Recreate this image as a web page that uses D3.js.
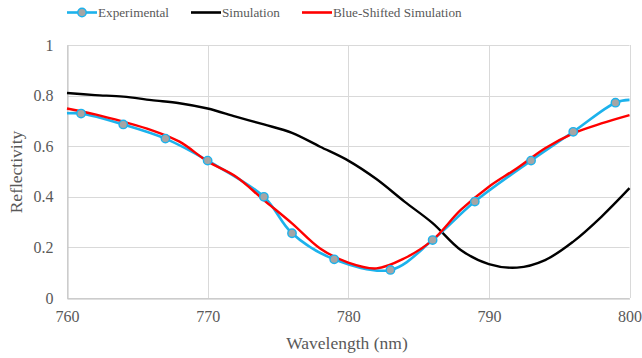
<!DOCTYPE html>
<html>
<head>
<meta charset="utf-8">
<script src="https://cdn.jsdelivr.net/npm/d3@7"></script>
<style>
  html, body { margin: 0; padding: 0; background: #fff; }
  svg { display: block; }
</style>
</head>
<body>
<svg id="chart" width="642" height="358" font-family="Liberation Serif"></svg>
<script>
// Measured reflectivity (line points; markers drawn at expMarkerNm)
const expNm    = [760, 761, 764, 767, 770, 774, 776, 779, 783, 786, 789, 793, 796, 799, 800];
const expValue = [0.730, 0.729, 0.686, 0.630, 0.543, 0.400, 0.256, 0.153, 0.111, 0.229, 0.381, 0.543, 0.657, 0.772, 0.783];
const expMarkerNm = [761, 764, 767, 770, 774, 776, 779, 783, 786, 789, 793, 796, 799];

// Simulated reflectivity
const simNm    = [760, 762, 764, 766, 768, 770, 772, 774, 776, 778, 780, 782, 784, 786, 788, 790, 792, 794, 796, 798, 800];
const simValue = [0.810, 0.802, 0.796, 0.782, 0.770, 0.749, 0.717, 0.686, 0.653, 0.598, 0.543, 0.470, 0.381, 0.296, 0.190, 0.134, 0.120, 0.150, 0.223, 0.321, 0.434];

// Simulation shifted toward shorter wavelengths
const shiftNm    = [760, 762, 764, 766, 768, 770, 772, 774, 776, 778, 780, 782, 784, 786, 788, 790, 792, 794, 796, 798, 800];
const shiftValue = [0.749, 0.726, 0.697, 0.664, 0.618, 0.540, 0.480, 0.387, 0.295, 0.196, 0.140, 0.117, 0.157, 0.229, 0.348, 0.440, 0.513, 0.592, 0.651, 0.690, 0.723];

const xTicks = [760, 770, 780, 790, 800];
const yTicks = [0, 0.2, 0.4, 0.6, 0.8, 1];
const legendLabels = ["Experimental", "Simulation", "Blue-Shifted Simulation"];

const colExp = "#1cb2ec", colSim = "#000000", colShift = "#ff0000";
const FONT = "Liberation Serif";

const svg = d3.select("#chart");
const m = { left: 67, right: 629.5, top: 45, bottom: 298 };

const x = d3.scaleLinear().domain([760, 800]).range([m.left, m.right]);
const y = d3.scaleLinear().domain([0, 1]).range([m.bottom, m.top]);

// Gridlines
const grid = svg.append("g").attr("stroke", "#d9d9d9").attr("stroke-width", 1);
grid.selectAll("line.h").data(yTicks).join("line")
  .attr("x1", m.left).attr("x2", m.right)
  .attr("y1", d => Math.round(y(d)) + 0.5).attr("y2", d => Math.round(y(d)) + 0.5);
grid.selectAll("line.v").data(xTicks).join("line")
  .attr("y1", m.top).attr("y2", m.bottom)
  .attr("x1", d => Math.round(x(d)) + 0.5).attr("x2", d => Math.round(x(d)) + 0.5);

// Axes
const xAxis = svg.append("g").attr("transform", `translate(0,${Math.round(y(0)) + 0.5})`)
  .call(d3.axisBottom(x).tickValues(xTicks).tickSize(0).tickPadding(12).tickFormat(d3.format("d")));
const yAxis = svg.append("g").attr("transform", `translate(${Math.round(x(760)) + 0.5},0)`)
  .call(d3.axisLeft(y).tickValues(yTicks).tickSize(0).tickPadding(14).tickFormat(d => d === 0 || d === 1 ? d3.format("d")(d) : d3.format(".1f")(d)));
[xAxis, yAxis].forEach(a => {
  a.attr("font-family", FONT).attr("font-size", 16);
  a.select(".domain").attr("stroke", "#bfbfbf");
  a.selectAll("text").attr("font-size", 16);
});

// Series
const line = (xs, vs) => d3.line().curve(d3.curveCatmullRom.alpha(0.5))
  .x((d, i) => x(xs[i])).y((d, i) => y(vs[i]))(vs);

svg.append("path").attr("d", line(simNm, simValue))
  .attr("fill", "none").attr("stroke", colSim).attr("stroke-width", 2.4);
svg.append("path").attr("d", line(expNm, expValue))
  .attr("fill", "none").attr("stroke", colExp).attr("stroke-width", 2.6);
svg.append("path").attr("d", line(shiftNm, shiftValue))
  .attr("fill", "none").attr("stroke", colShift).attr("stroke-width", 2.4);

// Experimental markers
svg.append("g").selectAll("circle").data(expMarkerNm).join("circle")
  .attr("cx", d => x(d)).attr("cy", d => y(expValue[expNm.indexOf(d)]))
  .attr("r", 4.2).attr("fill", "#a5a5a5").attr("stroke", colExp).attr("stroke-width", 1.4);

// Axis titles
svg.append("text").attr("x", 347).attr("y", 349).attr("text-anchor", "middle")
  .attr("font-size", 17.5).text("Wavelength (nm)");
svg.append("text").attr("transform", "translate(22,172) rotate(-90)").attr("text-anchor", "middle")
  .attr("font-size", 17.5).text("Reflectivity");

// Legend
const legendItems = [
  { label: legendLabels[0], color: colExp, x0: 67, marker: true },
  { label: legendLabels[1], color: colSim, x0: 191, marker: false },
  { label: legendLabels[2], color: colShift, x0: 302, marker: false }
];
const lg = svg.append("g");
legendItems.forEach(it => {
  lg.append("line").attr("x1", it.x0).attr("x2", it.x0 + 30).attr("y1", 12.5).attr("y2", 12.5)
    .attr("stroke", it.color).attr("stroke-width", 2.6);
  if (it.marker) {
    lg.append("circle").attr("cx", it.x0 + 15).attr("cy", 12.5).attr("r", 4.2)
      .attr("fill", "#a5a5a5").attr("stroke", it.color).attr("stroke-width", 1.4);
  }
  lg.append("text").attr("x", it.x0 + 31).attr("y", 17).attr("font-size", 13.2).text(it.label);
});

// All text in a Times-style serif, grey
svg.selectAll("text")
  .attr("font-family", FONT)
  .style("font-family", `'${FONT}'`)
  .attr("fill", "#595959");
</script>
</body>
</html>
